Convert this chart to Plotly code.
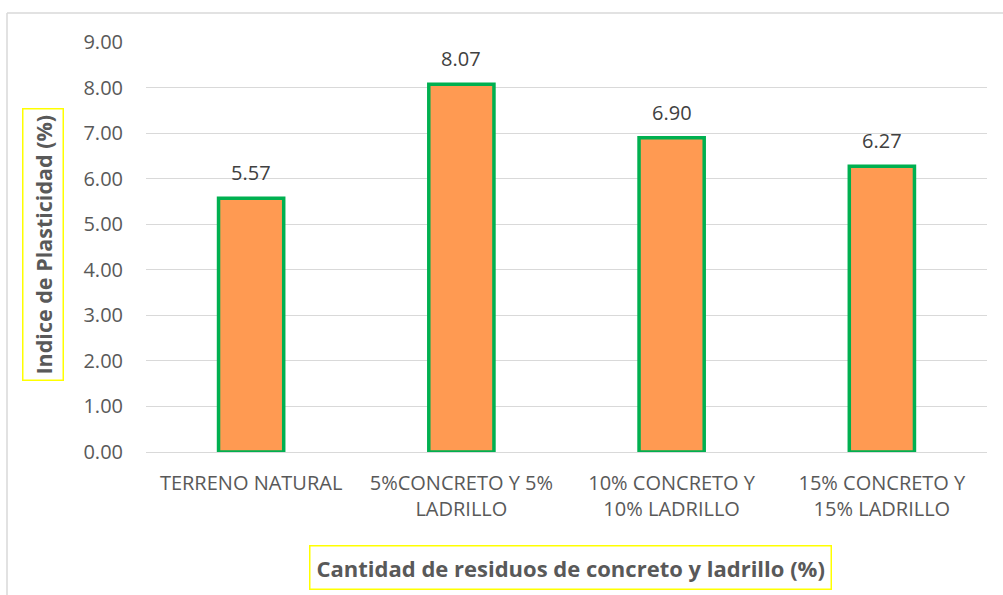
import plotly.graph_objects as go

# Chart data
categorias = [
    "TERRENO NATURAL",
    "5%CONCRETO Y 5%<br>LADRILLO",
    "10% CONCRETO Y<br>10% LADRILLO",
    "15% CONCRETO Y<br>15% LADRILLO",
]
indice_plasticidad = [5.57, 8.07, 6.90, 6.27]

FONT = "Open Sans"
GRAY = "#595959"
GRID = "#D9D9D9"

fig = go.Figure(
    go.Bar(
        x=categorias,
        y=indice_plasticidad,
        width=0.31,
        marker=dict(color="#FF9A52", line=dict(color="#00B050", width=3.5)),
    )
)

W, H = 1003, 595
ml, mr, mt, mb = 146, 16, 42, 143
pw, ph = W - ml - mr, H - mt - mb


def px_x(px):
    return (px - ml) / pw


def px_y(py):
    return (H - mb - py) / ph


# value labels above each bar
value_labels = [
    dict(
        x=c, y=v, xref="x", yref="y",
        text=f"{v:.2f}",
        showarrow=False,
        xanchor="center", yanchor="bottom",
        yshift=10,
        font=dict(family=FONT, size=20, color="#404040"),
    )
    for c, v in zip(categorias, indice_plasticidad)
]

fig.update_layout(
    width=W,
    height=H,
    margin=dict(l=ml, r=mr, t=mt, b=mb),
    paper_bgcolor="white",
    plot_bgcolor="white",
    showlegend=False,
    font=dict(family=FONT, color=GRAY),
    xaxis=dict(
        showgrid=False,
        showline=True,
        linecolor=GRID,
        linewidth=1,
        ticks="",
        ticklabelstandoff=13,
        tickfont=dict(family=FONT, size=20, color=GRAY),
    ),
    yaxis=dict(
        range=[0, 9],
        dtick=1,
        tickformat=".2f",
        showgrid=True,
        gridcolor=GRID,
        gridwidth=1,
        zeroline=False,
        showline=False,
        ticks="",
        ticklen=0,
        ticklabelstandoff=22,
        tickfont=dict(family=FONT, size=20, color=GRAY),
    ),
    annotations=value_labels + [
        dict(
            text="<b>Indice de Plasticidad (%)</b>",
            xref="paper", yref="paper",
            x=px_x(43), y=px_y(245),
            xanchor="center", yanchor="middle",
            textangle=-90,
            showarrow=False,
            font=dict(family=FONT, size=21.5, color=GRAY),
            bordercolor="#FFFF00",
            borderwidth=1.5,
            borderpad=5,
        ),
        dict(
            text="<b>Cantidad de residuos de concreto y ladrillo (%)</b>",
            xref="paper", yref="paper",
            x=px_x(570), y=px_y(567),
            xanchor="center", yanchor="middle",
            showarrow=False,
            font=dict(family=FONT, size=22, color=GRAY),
            bordercolor="#FFFF00",
            borderwidth=1.5,
            borderpad=6,
        ),
    ],
    shapes=[
        # outer chart frame (left and top edges)
        dict(type="line", xref="paper", yref="paper",
             x0=px_x(7), x1=px_x(7), y0=px_y(13), y1=px_y(600),
             line=dict(color=GRID, width=1.5)),
        dict(type="line", xref="paper", yref="paper",
             x0=px_x(7), x1=px_x(1010), y0=px_y(13), y1=px_y(13),
             line=dict(color=GRID, width=1.5)),
    ],
)

fig.write_html("out.html")
